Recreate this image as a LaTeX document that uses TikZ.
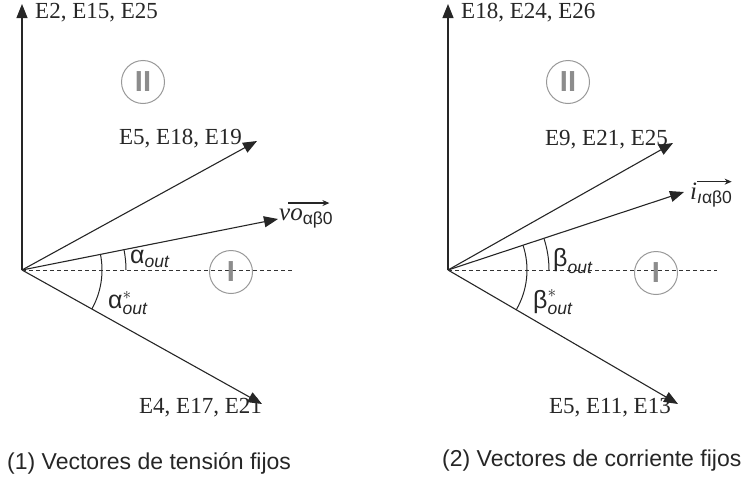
\documentclass[tikz,border=0pt]{standalone}
\usepackage{amsmath}
\usepackage{fontspec}
\setmainfont{Liberation Serif}
\setsansfont{Liberation Sans}
\usetikzlibrary{arrows.meta}
\newcommand{\ang}[1]{\text{\sffamily #1}}
\newcommand{\sub}[1]{\text{\sffamily\itshape #1}}

\begin{document}
\begin{tikzpicture}[x=1pt, y=1pt,
    vector/.style={-{Triangle[length=14pt, width=11pt]}, line width=1.1pt, color=black!85},
    flechita/.style={-{Stealth[length=7pt, width=6pt]}, line width=1.3pt, color=black!85},
    referencia/.style={dash pattern=on 3.5pt off 3.5pt, line width=1pt, color=black!80},
    arco/.style={line width=1pt, color=black!85},
    rotulo/.style={font=\fontsize{23}{25}\selectfont, inner sep=0pt, color=black!85},
    angulo/.style={font=\fontsize{25}{27}\selectfont, inner sep=0pt, color=black!85},
    zona/.style={circle, draw=black!40, line width=1pt, minimum size=43pt, inner sep=0pt,
      text=black!45, font=\fontsize{29}{29}\sffamily\bfseries\selectfont},
    titulo/.style={font=\fontsize{23}{26}\sffamily\selectfont, inner sep=0pt, color=black!85}]
    \useasboundingbox (0,0) rectangle (754,-482);
    % (1) tension
    \coordinate (o1) at (22,-270);
    \coordinate (ej1) at (22,-4);
    \coordinate (t1a) at (257,-141);
    \coordinate (t1v) at (278,-219);
    \coordinate (t1b) at (262,-404);
    \coordinate (r1) at (292,-270);
    \draw[vector] (o1) -- (ej1);
    \draw[vector] (o1) -- (t1a);
    \draw[vector] (o1) -- (t1v);
    \draw[vector] (o1) -- (t1b);
    \draw[referencia] (o1) -- (r1);
    \draw[arco] (o1) ++(0:104) arc[start angle=0, end angle=11.5, radius=104];
    \draw[arco] (o1) ++(-29.2:80) arc[start angle=-29.2, end angle=11.5, radius=80];
    \node[rotulo, anchor=west] (e2) at (35,-13) {E2, E15, E25};
    \node[rotulo, anchor=east] (e5) at (242,-139) {E5, E18, E19};
    \node[rotulo, anchor=east] (e4) at (262,-408) {E4, E17, E21};
    \node[angulo, anchor=west] (vo) at (279,-218) {$\text{\itshape vo}_{\ang{αβ0}}$};
    \coordinate (vo1) at ([xshift=9pt, yshift=5pt]vo.north west);
    \coordinate (vo2) at ([xshift=-4pt, yshift=5pt]vo.north east);
    \draw[flechita] (vo1) -- (vo2);
    \node[angulo, anchor=west] (aout) at (130,-259) {$\ang{α}_{\sub{out}}$};
    \node[angulo, anchor=west] (aest) at (108,-303) {$\ang{α}^{*}_{\sub{out}}$};
    \node[zona] (z1b) at (143,-82) {II};
    \node[zona] (z1a) at (231,-272) {I};
    \node[titulo, anchor=west] (tit1) at (7,-463) {(1) Vectores de tensión fijos};
    % (2) corriente
    \coordinate (o2) at (448,-270);
    \coordinate (ej2) at (448,-4);
    \coordinate (t2a) at (673,-143);
    \coordinate (t2i) at (684,-192);
    \coordinate (t2b) at (678,-404);
    \coordinate (r2) at (717,-270);
    \draw[vector] (o2) -- (ej2);
    \draw[vector] (o2) -- (t2a);
    \draw[vector] (o2) -- (t2i);
    \draw[vector] (o2) -- (t2b);
    \draw[referencia] (o2) -- (r2);
    \draw[arco] (o2) ++(0:101) arc[start angle=0, end angle=18.2, radius=101];
    \draw[arco] (o2) ++(-30.2:79) arc[start angle=-30.2, end angle=18.2, radius=79];
    \node[rotulo, anchor=west] (e18) at (461,-13) {E18, E24, E26};
    \node[rotulo, anchor=east] (e9) at (668,-140) {E9, E21, E25};
    \node[rotulo, anchor=east] (e11) at (671,-408) {E5, E11, E13};
    \node[angulo, anchor=west] (ii) at (690,-195) {$\text{\itshape i}_{\sub{ı}\ang{αβ0}}$};
    \coordinate (ii1) at ([xshift=7pt, yshift=1pt]ii.north west);
    \coordinate (ii2) at ([xshift=-1pt, yshift=1pt]ii.north east);
    \draw[flechita] (ii1) -- (ii2);
    \node[angulo, anchor=west] (bout) at (553,-261) {$\ang{β}_{\sub{out}}$};
    \node[angulo, anchor=west] (best) at (533,-302) {$\ang{β}^{*}_{\sub{out}}$};
    \node[zona] (z2b) at (568,-82) {II};
    \node[zona] (z2a) at (656,-273) {I};
    \node[titulo, anchor=west] (tit2) at (442,-461) {(2) Vectores de corriente fijos};
  \end{tikzpicture}
\end{document}
